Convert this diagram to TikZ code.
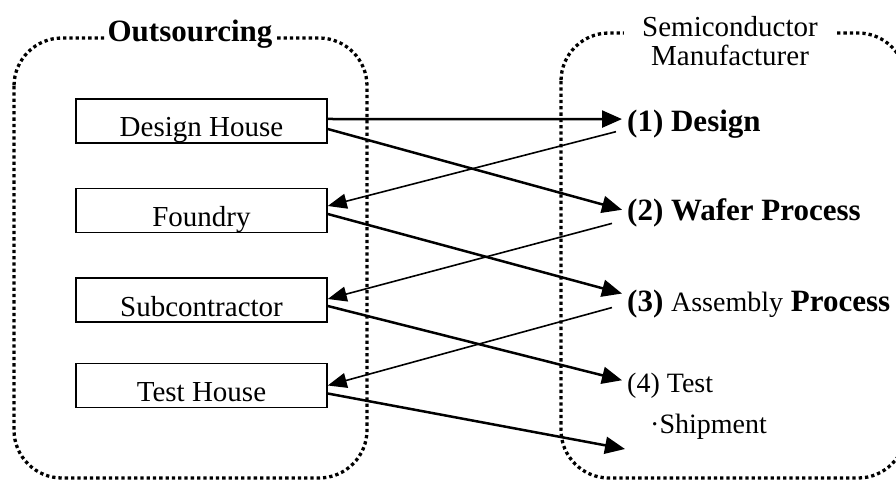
\documentclass[tikz,border=0pt]{standalone}
\usepackage{fontspec}
\setmainfont{Liberation Serif}
\usetikzlibrary{arrows.meta,positioning}
\newcommand{\boxfont}{\fontsize{29pt}{33pt}\selectfont}
\newcommand{\stagefont}{\fontsize{31pt}{35pt}\selectfont\bfseries}
\newcommand{\plainfont}{\fontsize{28pt}{29pt}\selectfont}

\begin{document}
\begin{tikzpicture}[x=1pt,y=-1pt,node distance=44pt,
    company/.style={draw,rectangle,line width=1.5pt,minimum width=251pt,
      text height=36pt,text depth=4pt,inner ysep=2pt,text centered,font=\boxfont},
    stage/.style={anchor=base west,inner xsep=5pt,inner ysep=0pt},
    group/.style={line width=3.3pt,dash pattern=on 3.3pt off 3pt,rounded corners=48pt},
    fwd/.style={line width=2.5pt,-{Triangle[length=20pt,width=17pt]}},
    back/.style={line width=1.6pt,-{Triangle[length=19pt,width=15pt]}}]
    \useasboundingbox (0,0) rectangle (896,481);
    \draw[group] (14,38) rectangle (367,478);
    \draw[group] (561,33) rectangle (906,478);
    \node[fill=white,inner xsep=3pt,inner ysep=1pt,anchor=base,
      font=\fontsize{31pt}{32pt}\selectfont\bfseries] (outs) at (190,42) {Outsourcing};
    \node[fill=white,inner xsep=18pt,inner ysep=1pt,anchor=north,align=center,
      font=\fontsize{29pt}{29pt}\selectfont] (semi) at (730,15) {Semiconductor\\Manufacturer};

    \node[company] (design) at (201.5,121) {Design House};
    \node[company,below=of design] (foundry) {Foundry};
    \node[company,below=of foundry] (subcon) {Subcontractor};
    \node[company,below=40pt of subcon] (testh) {Test House};

    \node[stage,font=\stagefont] (s1) at (622,132) {(1) Design};
    \node[stage,font=\stagefont] (s2) at (622,220) {(2) Wafer Process};
    \node[stage] (s3) at (622,311) {\stagefont(3) {\plainfont\mdseries Assembly} Process};
    \node[stage,font=\plainfont] (s4) at (622,392) {(4) Test};
    \node[stage,font=\plainfont] (ship) at (645,433) {\textperiodcentered Shipment};
    \coordinate (shipend) at (625,449);

    \draw[fwd] ([yshift=2pt]design.east) -- ([yshift=5.6pt]s1.west);
    \draw[fwd] ([yshift=-8pt]design.east) -- ([yshift=2.6pt]s2.west);
    \draw[back] ([xshift=-6pt,yshift=-7pt]s1.west) -- ([yshift=4.5pt]foundry.east);
    \draw[fwd] ([yshift=-3.5pt]foundry.east) -- ([yshift=10pt]s3.west);
    \draw[back] ([xshift=-10pt,yshift=-11pt]s2.west) -- ([yshift=1pt]subcon.east);
    \draw[fwd] ([yshift=-6pt]subcon.east) -- ([yshift=5pt]s4.west);
    \draw[back] ([xshift=-10pt,yshift=-4pt]s3.west) -- (testh.east);
    \draw[fwd] ([yshift=-8pt]testh.east) -- (shipend);
\end{tikzpicture}
\end{document}
